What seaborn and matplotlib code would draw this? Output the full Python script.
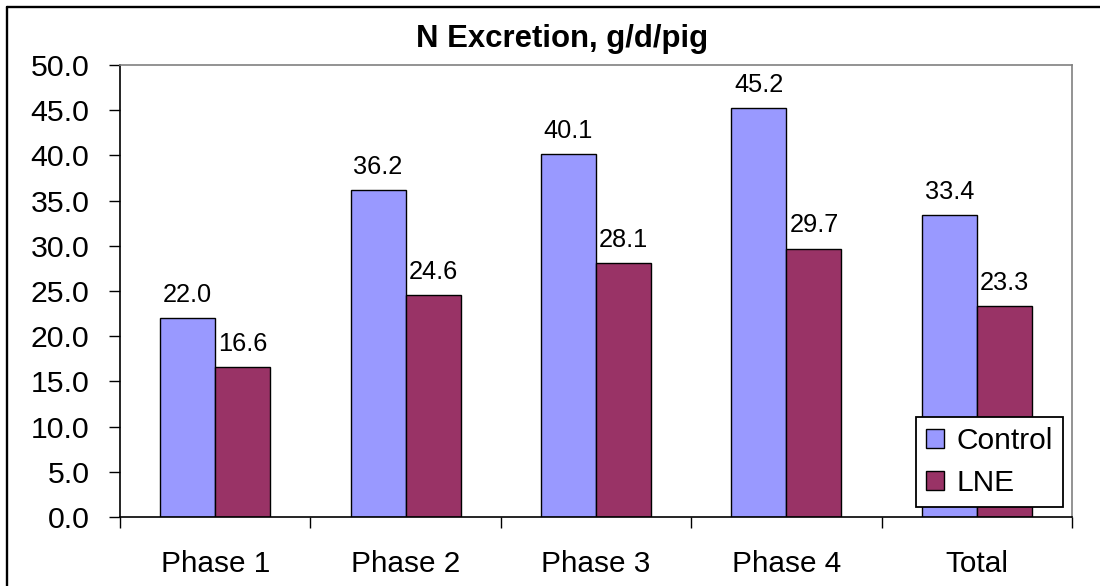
import matplotlib
matplotlib.use("Agg")
import matplotlib.pyplot as plt
from matplotlib.lines import Line2D
import seaborn as sns
import pandas as pd

categories = ["Phase 1", "Phase 2", "Phase 3", "Phase 4", "Total"]
control = [22.0, 36.2, 40.1, 45.2, 33.4]
lne = [16.6, 24.6, 28.1, 29.7, 23.3]
series_names = ["Control", "LNE"]
y_ticks = [0, 5, 10, 15, 20, 25, 30, 35, 40, 45, 50]
title = "N Excretion, g/d/pig"

df = pd.DataFrame({
    "phase": categories * 2,
    "group": [series_names[0]] * len(categories) + [series_names[1]] * len(categories),
    "value": control + lne,
})

sns.set_theme(style="white")
plt.rcParams["font.family"] = ["Liberation Sans", "DejaVu Sans"]
plt.rcParams["text.color"] = "black"
plt.rcParams["xtick.color"] = "black"
plt.rcParams["ytick.color"] = "black"
plt.rcParams["axes.labelcolor"] = "black"

fig = plt.figure(figsize=(11, 5.86), dpi=100)
ax = fig.add_axes([120 / 1100, 69 / 586, 952 / 1100, 452 / 586])

sns.barplot(
    data=df, x="phase", y="value", hue="group",
    order=categories, hue_order=series_names,
    palette=["#9999FF", "#993366"], width=0.578, gap=0,
    errorbar=None, edgecolor="black", linewidth=1.0, saturation=1,
    ax=ax,
)

for cont in ax.containers:
    ax.bar_label(cont, fmt="%.1f", padding=8, fontsize=18.3, color="black")

ax.set_ylim(0, 50)
ax.set_yticks(y_ticks)
ax.set_yticklabels([f"{v:.1f}" for v in y_ticks], fontsize=21.8, color="black")
ax.set_xlim(-0.5, len(categories) - 0.5)
ax.set_xticks([i - 0.5 for i in range(len(categories) + 1)])
ax.set_xticklabels([""] * (len(categories) + 1))
ax.set_xticks(range(len(categories)), minor=True)
ax.set_xticklabels(categories, minor=True, fontsize=21.4, color="black")
ax.tick_params(axis="x", which="major", direction="out", length=8, width=1, color="black", bottom=True)
ax.tick_params(axis="x", which="minor", length=0, pad=24)
ax.tick_params(axis="y", direction="out", length=8, width=1, color="black", left=True, pad=14)
ax.set_xlabel("")
ax.set_ylabel("")

for side in ("left", "bottom"):
    ax.spines[side].set_color("black")
    ax.spines[side].set_linewidth(1.2)
for side in ("top", "right"):
    ax.spines[side].set_color("#808080")
    ax.spines[side].set_linewidth(1.2)

handles, labels = ax.get_legend_handles_labels()
leg = ax.legend(
    handles, labels, loc="lower right", bbox_to_anchor=(0.9905, 0.022),
    fontsize=21.5, frameon=True, fancybox=False, shadow=False,
    edgecolor="black", framealpha=1, handlelength=0.6, handleheight=0.6,
    handletextpad=0.4, borderpad=0.35, labelspacing=0.45, borderaxespad=0,
    labelcolor="black",
)
leg.get_frame().set_linewidth(1.3)

fig.text(562 / 1100, 1 - 47 / 586, title, ha="center", va="baseline",
         fontsize=22.4, fontweight="bold", color="black")

# chart frame (top and left edges)
fig.add_artist(Line2D([7 / 1100, 1.0], [1 - 7 / 586, 1 - 7 / 586], transform=fig.transFigure,
                      color="black", linewidth=1.7))
fig.add_artist(Line2D([7 / 1100, 7 / 1100], [0.0, 1 - 7 / 586], transform=fig.transFigure,
                      color="black", linewidth=1.7))

fig.savefig("out.png", dpi=100, facecolor="white")
